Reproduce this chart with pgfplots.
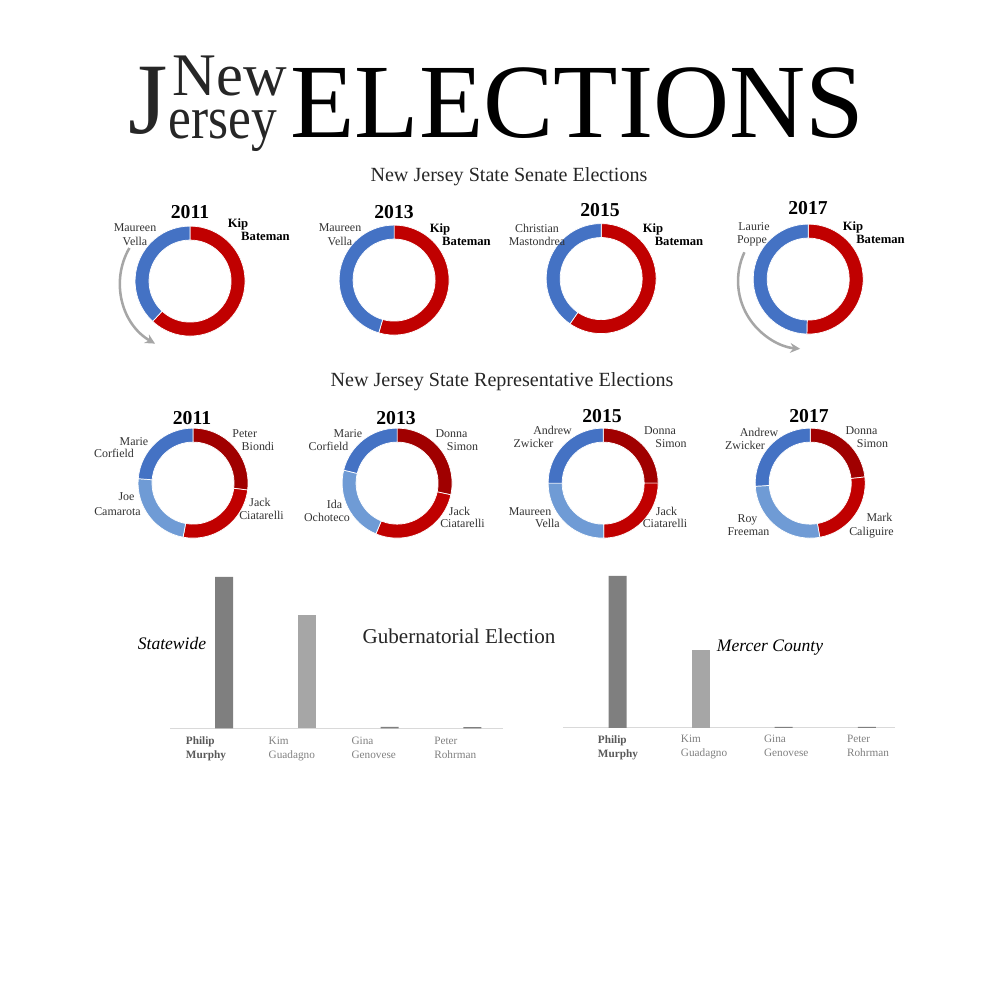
\documentclass[border=0pt]{standalone}
\usepackage{fontspec}
\setmainfont{Liberation Serif}
\usepackage{graphicx}
\usepackage{pgfplots}
\pgfplotsset{compat=1.18}
\usepackage{pgfplotstable}
\usetikzlibrary{arrows.meta}

\definecolor{demblue}{HTML}{4472C4}
\definecolor{demlight}{HTML}{6F9BD5}
\definecolor{repred}{HTML}{C00000}
\definecolor{repdark}{HTML}{A00000}
\definecolor{bardark}{HTML}{7F7F7F}
\definecolor{barlight}{HTML}{A6A6A6}
\definecolor{labdark}{HTML}{595959}
\definecolor{labgray}{HTML}{808080}
\definecolor{axisgray}{HTML}{D9D9D9}
\definecolor{arrowgray}{HTML}{A6A6A6}
% segment colours by index: 0 rep, 1 dem, 2 rep (first), 3 dem (second)
\colorlet{seg0}{repred}
\colorlet{seg1}{demblue}
\colorlet{seg2}{repdark}
\colorlet{seg3}{demlight}

% ring segments: centre of the ring (px), share running from..to (percent)
\pgfplotstableread{
cx  cy    from  to    col
190 281   0     61.9  0
190 281   61.9  100   1
394 280   0     54.5  0
394 280   54.5  100   1
601 278.5 0     59.6  0
601 278.5 59.6  100   1
808 279   0     50.4  0
808 279   50.4  100   1
}\senate

\pgfplotstableread{
cx  cy  from  to    col
193 483 0     27.0  2
193 483 27.0  52.9  0
193 483 52.9  76.3  3
193 483 76.3  100   1
397 483 0     28.4  2
397 483 28.4  56.3  0
397 483 56.3  78.8  3
397 483 78.8  100   1
603 483 0     25.0  2
603 483 25.0  49.8  0
603 483 49.8  75.0  3
603 483 75.0  100   1
810 483 0     23.2  2
810 483 23.2  47.2  0
810 483 47.2  74.1  3
810 483 74.1  100   1
}\assembly

\pgfdeclareplotmark{blank}{}
\def\rout{39.1pt}
\def\rin{29.2pt}

\pgfplotsset{
  ring/.style={
    scatter, only marks, mark=blank,
    visualization depends on={\thisrow{from} \as \segfrom},
    visualization depends on={\thisrow{to} \as \segto},
    visualization depends on={\thisrow{col} \as \segcol},
    scatter/@pre marker code/.code={%
      \pgfmathsetmacro\angA{90-3.6*\segfrom}%
      \pgfmathsetmacro\angB{90-3.6*\segto}%
      \pgfmathtruncatemacro\segidx{\segcol}%
      \filldraw[fill=seg\segidx, draw=white, line width=0.5pt]
        (\angA:\rout) arc[start angle=\angA, end angle=\angB, radius=\rout]
        -- (\angB:\rin) arc[start angle=\angB, end angle=\angA, radius=\rin] -- cycle;
    },
    scatter/@post marker code/.code={},
  },
  gub/.style={
    anchor=south west, scale only axis,
    axis y line=none, ytick=\empty,
    axis x line*=bottom,
    x axis line style={draw=axisgray, line width=0.8pt, -},
    xtick={0,1,2,3}, major tick length=0pt, xtick style={draw=none},
    xticklabels={{\textcolor{labdark}{\textbf{Philip}}\\\textcolor{labdark}{\textbf{Murphy}}},
                 {Kim\\Guadagno}, {Gina\\Genovese}, {Peter\\Rohrman}},
    xticklabel style={align=left, anchor=north west, inner sep=0pt, text=labgray,
                      font=\fontsize{8}{10}\selectfont},
    ymin=0, clip=false,
  },
}

\newcommand\nm[3]{\node[anchor=base, inner sep=0pt, text=black!80,
  font=\fontsize{8.5}{10}\selectfont] at (#1,#2+3.5) {#3};}
\newcommand\nb[3]{\node[anchor=base, inner sep=0pt,
  font=\bfseries\fontsize{9}{10}\selectfont] at (#1,#2+3.5) {#3};}
\newcommand\yr[3]{\node[inner sep=0pt, font=\bfseries\fontsize{14}{16}\selectfont] at (#1,#2) {#3};}

\begin{document}
\begin{tikzpicture}[x=0.025cm, y=-0.025cm]
\path[use as bounding box] (0,0) rectangle (1000,1000);

% title
\node[anchor=base west, inner sep=0pt, text=black!85, font=\fontsize{72}{72}\selectfont] at (128,133) {J};
\node[anchor=base west, inner sep=0pt, text=black!85, font=\fontsize{43}{43}\selectfont] at (168,138)
  {\vbox{\baselineskip=30pt\hbox{\kern3pt New}\hbox{\scalebox{0.85}[1]{ersey}}}};
\node[anchor=base west, inner sep=0pt, text=black, font=\fontsize{75}{75}\selectfont] at (290,137) {ELECTIONS};

\node[anchor=base, inner sep=0pt, text=black!85, font=\fontsize{14.3}{16}\selectfont] at (509,181) {New Jersey State Senate Elections};
\node[anchor=base, inner sep=0pt, text=black!85, font=\fontsize{14.3}{16}\selectfont] at (502,386) {New Jersey State Representative Elections};

% donut rings
\begin{axis}[at={(0cm,-25cm)}, anchor=south west, width=25cm, height=25cm, scale only axis,
  xmin=0, xmax=1000, ymin=0, ymax=1000, y dir=reverse, hide axis, clip=false]
\addplot[ring] table[x=cx, y=cy] {\senate};
\addplot[ring] table[x=cx, y=cy] {\assembly};
\end{axis}

% senate labels
\yr{190}{212}{2011} \yr{394}{212}{2013} \yr{600}{210}{2015} \yr{808}{208}{2017}
\nm{135}{228}{Maureen} \nm{135}{242}{Vella} \nb{238}{224}{Kip} \nb{265.5}{237}{Bateman}
\nm{340}{228}{Maureen} \nm{340}{242}{Vella} \nb{440}{229}{Kip} \nb{466.5}{241.7}{Bateman}
\nm{537}{229}{Christian} \nm{537}{242}{Mastondrea} \nb{653}{229}{Kip} \nb{679}{242}{Bateman}
\nm{754}{227}{Laurie} \nm{752}{240}{Poppe} \nb{853}{227}{Kip} \nb{880.5}{240}{Bateman}

\draw[arrowgray, line width=1.8pt, -{Stealth[length=7pt, width=7pt]}]
  (129.4,248) arc[start angle=-150, end angle=-240, radius=70];
\draw[arrowgray, line width=1.8pt, -{Stealth[length=7pt, width=7pt]}]
  (744.4,252.3) arc[start angle=-155, end angle=-265, radius=68];

% representative labels
\yr{192}{418}{2011} \yr{396}{418}{2013} \yr{602}{416}{2015} \yr{809}{416}{2017}
\nm{244.7}{434}{Peter} \nm{258}{447}{Biondi} \nm{134}{441.7}{Marie} \nm{114}{454}{Corfield}
\nm{126.5}{497}{Joe} \nm{117.5}{512}{Camarota} \nm{260}{503}{Jack} \nm{261.5}{516}{Ciatarelli}
\nm{348}{434}{Marie} \nm{328.5}{447}{Corfield} \nm{451.5}{434}{Donna} \nm{462.5}{447}{Simon}
\nm{334.5}{505}{Ida} \nm{327}{518}{Ochoteco} \nm{459.5}{512}{Jack} \nm{462.5}{524}{Ciatarelli}
\nm{552.5}{431}{Andrew} \nm{533.5}{444}{Zwicker} \nm{660}{431}{Donna} \nm{671}{444}{Simon}
\nm{530}{512}{Maureen} \nm{547.5}{524}{Vella} \nm{666.5}{512}{Jack} \nm{665}{524}{Ciatarelli}
\nm{759}{433}{Andrew} \nm{745}{446}{Zwicker} \nm{861.5}{431}{Donna} \nm{872.5}{444}{Simon}
\nm{747.5}{519}{Roy} \nm{748.5}{532}{Freeman} \nm{879.5}{518}{Mark} \nm{871.5}{532}{Caliguire}

% gubernatorial, statewide
\begin{axis}[gub, at={(4.25cm,-18.2075cm)}, width=8.325cm, height=3.958cm,
  xmin=-0.652, xmax=3.37, ymax=58.5,
  xticklabel style={xshift=-0.96cm, yshift=-0.2cm}]
\addplot[ybar, bar width=0.45cm, bar shift=0pt, draw=none, fill=bardark] coordinates {(0,56.0) (2,0.6) (3,0.5)};
\addplot[ybar, bar width=0.45cm, bar shift=0pt, draw=none, fill=barlight] coordinates {(1,41.9)};
\end{axis}

% gubernatorial, Mercer County
\begin{axis}[gub, at={(14.075cm,-18.1925cm)}, width=8.3cm, height=3.943cm,
  xmin=-0.657, xmax=3.343, ymax=68.06,
  xticklabel style={xshift=-0.5cm, yshift=-0.18cm}]
\addplot[ybar, bar width=0.45cm, bar shift=0pt, draw=none, fill=bardark] coordinates {(0,65.6) (2,0.4) (3,0.4)};
\addplot[ybar, bar width=0.45cm, bar shift=0pt, draw=none, fill=barlight] coordinates {(1,33.5)};
\end{axis}

\node[inner sep=0pt, font=\itshape\fontsize{12.5}{14}\selectfont] at (172,643) {Statewide};
\node[inner sep=0pt, text=black!85, font=\fontsize{15}{18}\selectfont] at (459,636) {Gubernatorial Election};
\node[inner sep=0pt, font=\itshape\fontsize{12.5}{14}\selectfont] at (770,648) {Mercer County};

\end{tikzpicture}
\end{document}
